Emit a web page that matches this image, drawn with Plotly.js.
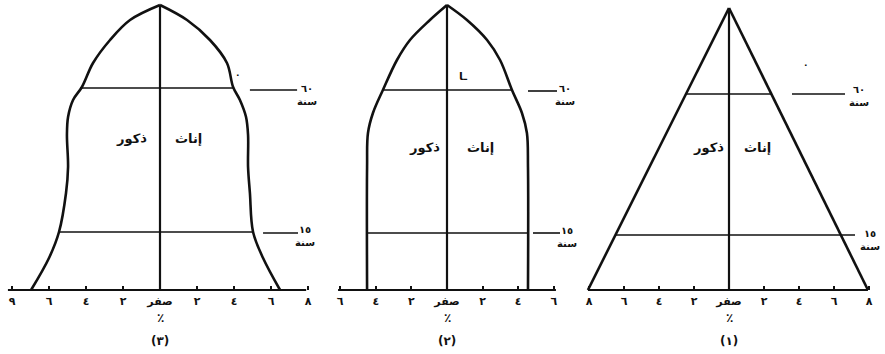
<!DOCTYPE html>
<html>
<head>
<meta charset="utf-8">
<script src="https://cdn.plot.ly/plotly-3.0.1.min.js"></script>
<style>html,body{margin:0;padding:0;background:#fff}#chart{width:885px;height:354px}</style>
</head>
<body>
<div id="chart"></div>
<script>
// ---------- DATA (x in %, y = relative height in the sketch, base = 0) ----------
// Chart (3): bell-shaped pyramid
const heights3 = [0, 32, 58, 97, 123, 155, 173, 190, 203, 227, 250, 270, 285];
const males3   = [6.97, 6.00, 5.46, 5.08, 4.97, 5.03, 4.97, 4.70, 4.22, 3.62, 2.70, 1.62, 0];
const females3 = [6.49, 5.57, 5.03, 4.86, 4.76, 4.76, 4.65, 4.32, 3.95, 3.62, 2.70, 1.46, 0];
// Chart (2): stationary (bullet) pyramid
const heights2 = [0, 123, 157, 177, 200, 230, 250, 270, 285];
const males2   = [4.49, 4.49, 4.44, 4.16, 3.60, 2.81, 2.08, 0.96, 0];
const females2 = [4.55, 4.55, 4.49, 4.21, 3.65, 2.98, 2.25, 1.12, 0];
// Chart (1): triangular pyramid
const heights1 = [0, 282];
const males1   = [8.06, 0];
const females1 = [7.94, 0];

// Age-band lines (15 and 60 years): height, left end, right end
const bandAges = ['١٥', '٦٠'];
const band3 = {h: [58, 202], left: [-5.46, -4.32], right: [5.03, 3.95]};
const band2 = {h: [57, 200], left: [-4.49, -3.60], right: [4.55, 3.65]};
const band1 = {h: [55, 196], left: [-6.49, -2.46], right: [7.20, 2.42]};
// Pointer dashes leading to the age labels: height, start, end
const pointer3 = {h: [57, 200], start: [5.57, 4.86], end: [7.46, 7.41]};
const pointer2 = {h: [57, 199], start: [4.83, 4.55], end: [6.35, 6.18]};
const pointer1 = {h: [196], start: [3.60], end: [6.63]};
// Baseline (x axis) extents
const base3 = [-8.22, 7.90];
const base2 = [-6.12, 6.12];
const base1 = [-8.06, 7.94];

// Tick labels
const tickVals3 = [-8, -6, -4, -2, 0, 2, 4, 6, 8];
const tickText3 = ['٩', '٦', '٤', '٢', 'صفر', '٢', '٤', '٦', '٨'];
const tickVals2 = [-6, -4, -2, 0, 2, 4, 6];
const tickText2 = ['٦', '٤', '٢', 'صفر', '٢', '٤', '٦'];
const tickVals1 = [-8, -6, -4, -2, 0, 2, 4, 6, 8];
const tickText1 = ['٨', '٦', '٤', '٢', 'صفر', '٢', '٤', '٦', '٨'];

const maleLabel = 'ذكور';
const femaleLabel = 'إناث';
const yearWord = 'سنة';
const percentSign = '٪';
const chartNumbers = ['(٣)', '(٢)', '(١)'];

// ---------- BUILD ----------
const INK = '#111';
const FONT = 'DejaVu Sans, Noto Sans, sans-serif';
const traces = [];

function outline(h, m, f, xa, shape) {
  // left (males) and right (females) sides drawn separately so the apex stays sharp
  traces.push({x: m.map(v => -v), y: h, xaxis: xa, yaxis: 'y', mode: 'lines', hoverinfo: 'skip',
    line: {color: INK, width: 2.6, shape: shape, smoothing: 1}});
  traces.push({x: f.slice(), y: h, xaxis: xa, yaxis: 'y', mode: 'lines', hoverinfo: 'skip',
    line: {color: INK, width: 2.6, shape: shape, smoothing: 1}});
  traces.push({x: [0, 0], y: [0, h[h.length - 1]], xaxis: xa, yaxis: 'y', mode: 'lines',
    hoverinfo: 'skip', line: {color: INK, width: 2.2}});
}
function seg(x0, x1, y0, y1, xa, w) {
  traces.push({x: [x0, x1], y: [y0, y1], xaxis: xa, yaxis: 'y', mode: 'lines',
    hoverinfo: 'skip', line: {color: INK, width: w}});
}
function bands(b, p, base, xa) {
  b.h.forEach((h, i) => seg(b.left[i], b.right[i], h, h, xa, 1.6));
  p.h.forEach((h, i) => seg(p.start[i], p.end[i], h, h, xa, 1.6));
  seg(base[0], base[1], 0, 0, xa, 2.2);
}

outline(heights3, males3, females3, 'x', 'spline');
outline(heights2, males2, females2, 'x2', 'spline');
outline(heights1, males1, females1, 'x3', 'linear');
bands(band3, pointer3, base3, 'x');
bands(band2, pointer2, base2, 'x2');
bands(band1, pointer1, base1, 'x3');

const ann = [];
function txt(text, x, y, xref, opts) {
  ann.push(Object.assign({text, x, y, xref, yref: 'y', showarrow: false,
    font: {family: FONT, size: 12, color: INK, weight: 'bold'}}, opts || {}));
}
const sexFont = {family: FONT, size: 13, color: INK, weight: 'bold'};
txt(maleLabel, -0.6, 152, 'x', {xanchor: 'right', font: sexFont});
txt(femaleLabel, 0.7, 152, 'x', {xanchor: 'left', font: sexFont});
txt(maleLabel, -0.3, 143, 'x2', {xanchor: 'right', font: sexFont});
txt(femaleLabel, 1.0, 143, 'x2', {xanchor: 'left', font: sexFont});
txt(maleLabel, -0.15, 143, 'x3', {xanchor: 'right', font: sexFont});
txt(femaleLabel, 0.74, 143, 'x3', {xanchor: 'left', font: sexFont});
// age labels
const ageFont = {family: FONT, size: 10, color: INK, weight: 'bold'};
txt(bandAges[1] + '<br>' + yearWord, 7.3, 195, 'x', {xanchor: 'left', font: ageFont, align: 'center'});
txt(bandAges[0] + '<br>' + yearWord, 7.2, 54, 'x', {xanchor: 'left', font: ageFont, align: 'center'});
txt(bandAges[1] + '<br>' + yearWord, 5.96, 195, 'x2', {xanchor: 'left', font: ageFont, align: 'center'});
txt(bandAges[0] + '<br>' + yearWord, 6.07, 53, 'x2', {xanchor: 'left', font: ageFont, align: 'center'});
txt(bandAges[1] + '<br>' + yearWord, 6.74, 194, 'x3', {xanchor: 'left', font: ageFont, align: 'center'});
txt(bandAges[0] + '<br>' + yearWord, 7.37, 50, 'x3', {xanchor: 'left', font: ageFont, align: 'center'});
// small stray marks in the drawing
txt('٠', 4.2, 215, 'x', {font: {family: FONT, size: 9, color: INK, weight: 'bold'}});
txt('ـا', 0.9, 214, 'x2', {font: {family: FONT, size: 11, color: INK, weight: 'bold'}});
txt('٠', 4.4, 225, 'x3', {font: {family: FONT, size: 9, color: INK, weight: 'bold'}});
// percent signs and chart numbers
const axesRefs = ['x', 'x2', 'x3'];
axesRefs.forEach((xr, i) => {
  txt(percentSign, 0, -28, xr, {font: {family: FONT, size: 12, color: INK, weight: 'bold'}});
  txt(chartNumbers[i], 0, -51, xr, {font: {family: FONT, size: 12, color: INK, weight: 'bold'}});
});

function xAxis(dom, rng, tv, tt) {
  return {domain: [dom[0] / 885, dom[1] / 885], range: rng, anchor: 'free', position: 64 / 354,
    showline: false, showgrid: false, zeroline: false, ticks: 'inside', ticklen: 4, tickwidth: 2,
    tickcolor: INK, tickvals: tv, ticktext: tt, fixedrange: true, ticklabelstandoff: 3,
    tickfont: {family: FONT, size: 11, color: INK, weight: 'bold'}};
}

const layout = {
  width: 885, height: 354,
  margin: {l: 0, r: 0, t: 0, b: 0},
  paper_bgcolor: '#fff', plot_bgcolor: 'rgba(0,0,0,0)',
  showlegend: false,
  xaxis: xAxis([0, 340], [-160 / 18.5, 180 / 18.5], tickVals3, tickText3),
  xaxis2: xAxis([300, 600], [-147 / 17.8, 153 / 17.8], tickVals2, tickText2),
  xaxis3: xAxis([570, 885], [-159 / 17.5, 156 / 17.5], tickVals1, tickText1),
  yaxis: {domain: [0, 1], range: [-64, 290], visible: false, showgrid: false, zeroline: false, fixedrange: true},
  annotations: ann
};

Plotly.newPlot('chart', traces, layout, {staticPlot: true, displayModeBar: false});
</script>
</body>
</html>
